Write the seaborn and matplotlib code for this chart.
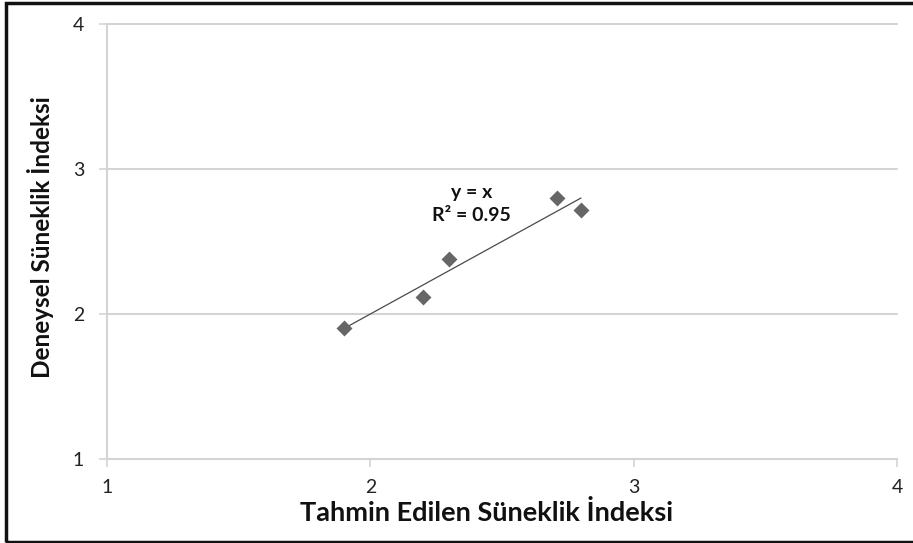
import matplotlib
matplotlib.use("Agg")
import matplotlib.pyplot as plt
import seaborn as sns
import numpy as np
import pandas as pd
from matplotlib.patches import Rectangle

# Predicted vs experimental ductility index
predicted = [1.9, 2.2, 2.3, 2.71, 2.8]
experimental = [1.9, 2.12, 2.38, 2.80, 2.72]

# Fitted trendline y = slope * x + intercept
slope = 1.0
intercept = 0.0
r_squared = 0.95

ticks = [1, 2, 3, 4]
x_label = "Tahmin Edilen Süneklik İndeksi"
y_label = "Deneysel Süneklik İndeksi"

sns.set_theme(style="white")
plt.rcParams["font.family"] = ["Lato", "DejaVu Sans"]

fig = plt.figure(figsize=(9.13, 5.43), dpi=100)
ax = fig.add_axes([0.1172, 0.1547, 0.8653, 0.8011])

df = pd.DataFrame({"x": predicted, "y": experimental})
tx = np.array([min(predicted), max(predicted)])
trend = pd.DataFrame({"x": tx, "y": slope * tx + intercept})

sns.lineplot(data=trend, x="x", y="y", ax=ax, color="#4a4a4a", lw=0.9, zorder=3)
sns.scatterplot(data=df, x="x", y="y", ax=ax, marker="D", s=66,
                color="#666666", edgecolor="#666666", linewidth=0, zorder=4)

ax.set_xlim(1, 4)
ax.set_ylim(1, 4)
ax.set_xticks(ticks)
ax.set_yticks(ticks)
ax.set_xticklabels([str(t) for t in ticks])
ax.set_yticklabels([str(t) for t in ticks])

grid_c = "#d4d4d4"
for t in ticks[1:]:
    ax.axhline(t, color=grid_c, lw=1.5, zorder=1, clip_on=False)

for s in ["top", "right"]:
    ax.spines[s].set_visible(False)
for s in ["left", "bottom"]:
    ax.spines[s].set_color(grid_c)
    ax.spines[s].set_linewidth(1.5)

ax.tick_params(axis="both", which="major", direction="out", length=5.5,
               width=1.2, color=grid_c, labelsize=14, labelcolor="#222222",
               bottom=True, left=True)
ax.tick_params(axis="y", pad=11)
ax.tick_params(axis="x", pad=9)

ax.set_xlabel(x_label, fontsize=19.5, fontweight="bold", color="#111111")
ax.set_ylabel(y_label, fontsize=17.5, fontweight="bold", color="#111111")
ax.xaxis.set_label_coords(0.48, -0.095)
ax.yaxis.set_label_coords(-0.067, 0.51)

ax.text(2.385, 2.76, f"y = x\nR² = {r_squared:.2f}", ha="center", va="center",
        fontsize=14, fontweight="bold", color="#111111", linespacing=1.45)

# Frame around the whole figure
fig.patches.append(Rectangle((5.5 / 913, 1.5 / 543), 1.0, 1 - 4.5 / 543,
                             transform=fig.transFigure, fill=False,
                             edgecolor="#111111", lw=2.5))

fig.savefig("out.png", dpi=100)
